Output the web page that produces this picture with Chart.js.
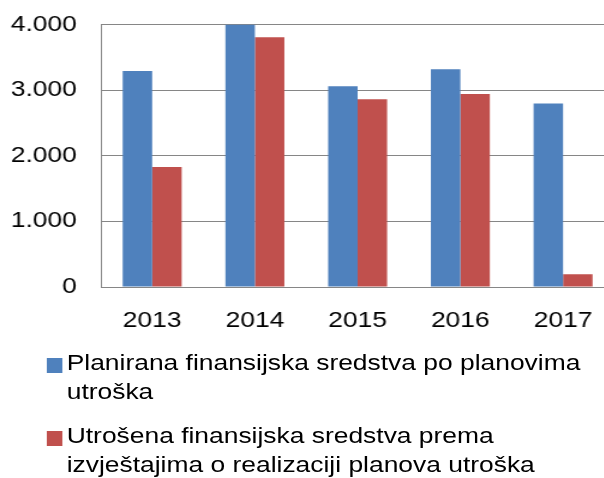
<!DOCTYPE html>
<html>
<head>
<meta charset="utf-8">
<script src="https://cdn.jsdelivr.net/npm/chart.js@4"></script>
<style>
  html, body { margin: 0; padding: 0; background: #fff; overflow: hidden; }
  /* the original picture is stretched horizontally, so draw at 512 wide and scale */
  #wrap { position: relative; width: 512px; height: 478px; transform: scaleX(1.2); transform-origin: 0 0; }
  #chartBox { position: absolute; left: 0; top: 0; width: 512px; height: 340px; }
  #legend { position: absolute; left: 0; top: 348px; font-family: "Liberation Sans", Arial, sans-serif; font-size: 22px; line-height: 29px; color: #000; }
  .item { position: relative; padding-left: 55.6px; margin-bottom: 15px; white-space: nowrap; }
  .box { position: absolute; left: 39px; top: 10px; width: 12.5px; height: 15px; }
</style>
</head>
<body>
<div id="wrap">
  <div id="chartBox"><canvas id="chart"></canvas></div>
  <div id="legend"></div>
</div>
<script>
const years = ["2013", "2014", "2015", "2016", "2017"];
const planned = [3290, 4000, 3060, 3320, 2795];
const spent = [1830, 3805, 2860, 2940, 195];
const seriesNames = [
  ["Planirana finansijska sredstva po planovima", "utroška"],
  ["Utrošena finansijska sredstva prema", "izvještajima o realizaciji planova utroška"]
];
const seriesColors = ["#4F81BD", "#C0504D"];

const font = "'Liberation Sans', Arial, sans-serif";

new Chart(document.getElementById("chart"), {
  type: "bar",
  data: {
    labels: years,
    datasets: [
      { label: seriesNames[0].join(" "), data: planned, backgroundColor: seriesColors[0] },
      { label: seriesNames[1].join(" "), data: spent, backgroundColor: seriesColors[1] }
    ]
  },
  options: {
    responsive: true,
    maintainAspectRatio: false,
    animation: false,
    layout: { padding: { top: 24.5, left: 0, right: 0, bottom: 0 } },
    datasets: { bar: { categoryPercentage: 0.574, barPercentage: 1 } },
    plugins: { legend: { display: false }, tooltip: { enabled: false } },
    scales: {
      x: {
        grid: { display: false },
        border: { color: "#868686", width: 1 },
        ticks: { color: "#000", font: { family: font, size: 22 }, padding: 13 },
        afterFit: s => { s.height = 53; }
      },
      y: {
        min: 0,
        max: 4000,
        grid: { color: "#868686", lineWidth: 1, drawTicks: false },
        border: { color: "#868686", width: 1 },
        ticks: {
          stepSize: 1000,
          color: "#000",
          font: { family: font, size: 22 },
          padding: 20,
          callback: v => v.toLocaleString("de-DE")
        },
        // tick padding also pads top/bottom, drop that so the plot starts at 24px
        afterFit: s => { s.width = 84; s.paddingTop = 0; s.paddingBottom = 0; }
      }
    }
  }
});

// legend with wrapped lines like the original
const legend = document.getElementById("legend");
seriesNames.forEach((lines, i) => {
  const item = document.createElement("div");
  item.className = "item";
  item.innerHTML = `<span class="box" style="background:${seriesColors[i]}"></span>` + lines.join("<br>");
  legend.appendChild(item);
});
</script>
</body>
</html>
